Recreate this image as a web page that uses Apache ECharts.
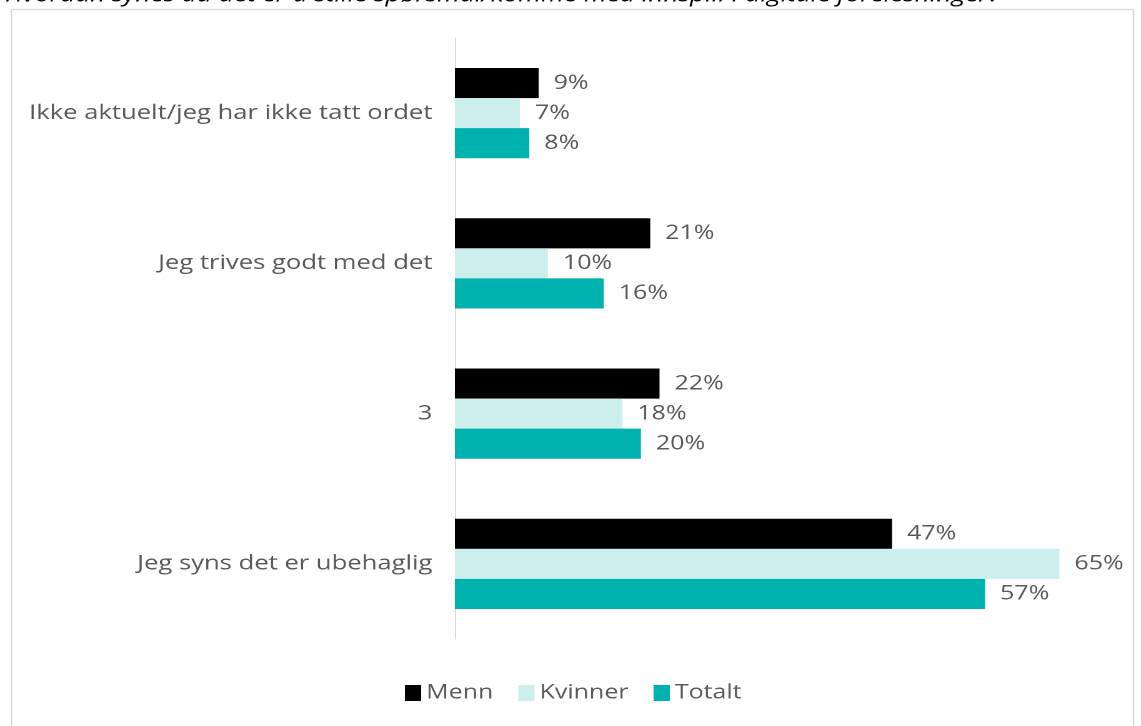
<!DOCTYPE html>
<html>
<head>
<meta charset="utf-8">
<script src="https://cdn.jsdelivr.net/npm/echarts@6/dist/echarts.min.js"></script>
<style>
  html, body { margin: 0; padding: 0; background: #fff; overflow: hidden; }
  /* the chart is laid out in a narrower box and widened to the full page width */
  #chart { width: 913px; height: 726px; transform: scaleX(1.2497); transform-origin: 0 0; }
</style>
</head>
<body>
<div id="chart"></div>
<script>
// Survey answers, share of respondents (%)
const categories = [
  'Ikke aktuelt/jeg har ikke tatt ordet',
  'Jeg trives godt med det',
  '3',
  'Jeg syns det er ubehaglig'
];
const menn    = [9, 21, 22, 47];
const kvinner = [7, 10, 18, 65];
const totalt  = [8, 16, 20, 57];
const seriesNames = ['Menn', 'Kvinner', 'Totalt'];
const titleText = 'Hvordan synes du det er å stille spørsmål/komme med innspill i digitale forelesninger?';

const colors = ['#000000', '#ccefee', '#00b2ae'];
const font = '"Open Sans", sans-serif';

const chart = echarts.init(document.getElementById('chart'), null, { devicePixelRatio: 2 });

const labelCfg = {
  show: true,
  position: 'right',
  distance: 12,
  formatter: p => p.value + '%',
  color: '#595959',
  fontSize: 20,
  fontFamily: font
};

const makeSeries = (name, data, i) => ({
  name,
  type: 'bar',
  data,
  barGap: '0%',
  barCategoryGap: '40%',
  itemStyle: { color: colors[i] },
  label: labelCfg,
  emphasis: { disabled: true }
});

chart.setOption({
  animation: false,
  color: colors,
  grid: { left: 364, right: 28, top: 38, bottom: 87, containLabel: false },
  xAxis: {
    type: 'value',
    min: 0,
    max: 70,
    show: false,
    splitLine: { show: false }
  },
  yAxis: {
    type: 'category',
    data: categories,
    inverse: true,
    axisLine: { show: true, lineStyle: { color: '#d9d9d9', width: 1 } },
    axisTick: { show: false },
    axisLabel: { color: '#595959', fontSize: 20.5, fontFamily: font, margin: 18 }
  },
  legend: {
    data: seriesNames,
    bottom: 18,
    left: 319,
    itemWidth: 13,
    itemHeight: 16,
    itemGap: 20,
    icon: 'rect',
    textStyle: { color: '#595959', fontSize: 20, fontFamily: font, padding: [0, 0, 0, -1] }
  },
  graphic: [
    {
      type: 'rect',
      shape: { x: 9.2, y: 9.5, width: 897.8, height: 740 },
      style: { fill: 'none', stroke: '#d9d9d9', lineWidth: 1.3 },
      silent: true
    },
    {
      type: 'text',
      left: 4,
      top: -15,
      style: {
        text: titleText,
        font: 'italic 21px ' + font,
        fill: '#000000'
      },
      silent: true
    }
  ],
  series: [
    makeSeries(seriesNames[0], menn, 0),
    makeSeries(seriesNames[1], kvinner, 1),
    makeSeries(seriesNames[2], totalt, 2)
  ]
});
</script>
</body>
</html>
